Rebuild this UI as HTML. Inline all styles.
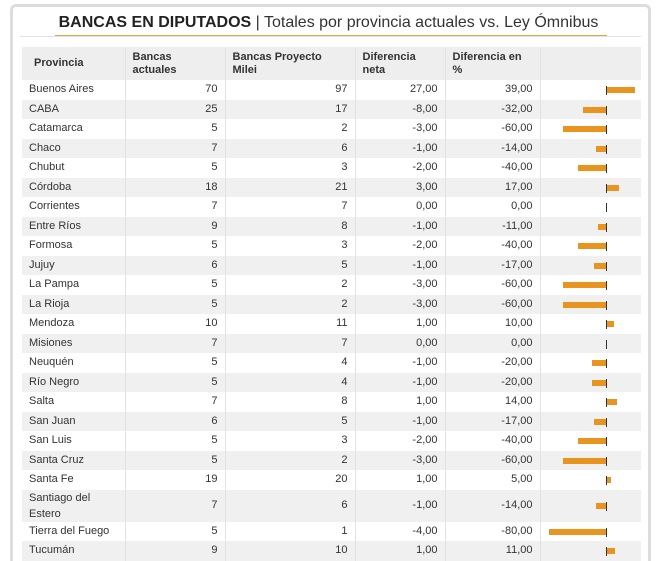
<!DOCTYPE html>
<html style="overflow:hidden;height:561px"><head><meta charset="utf-8"><style>
body{margin:0;width:657px;height:561px;background:#fff;font-family:"Liberation Sans",Arial,sans-serif;overflow:hidden;position:relative}
.card{position:absolute;left:10px;top:4px;width:641px;height:566px;border:3px solid #ddd;border-bottom:none;border-radius:6px 6px 0 0;box-sizing:border-box}
.title{position:absolute;left:0;width:657px;top:14px;text-align:center;font-size:16px;color:#333;white-space:nowrap}
.title b{font-weight:bold;color:#222}
.ul{position:absolute;left:55px;width:552px;top:35px;height:1px;background:#e0a93a}
.gl{position:absolute;left:20px;width:621px;top:36px;height:1px;background:#e2e2e2}
table{position:absolute;left:22px;top:47px;border-collapse:collapse;font-size:11px;color:#333;table-layout:fixed;width:619px}
td{padding:0 7px;height:19.5px;border-left:1px solid #e2e2e2;line-height:13px}
td:first-child{border-left:none}
thead td{background:#eee;font-weight:bold;height:33px;vertical-align:middle}
thead td:first-child{padding-left:12px}
tbody tr:nth-child(even) td{background:#f0f0f0}
td.n{text-align:right}
.b{position:relative;height:19px;padding:0}
.z{position:absolute;left:65px;top:6px;width:1px;height:9px;background:#333}
.bar{position:absolute;top:7px;height:6px;background:#e8941f}
</style></head><body>
<div class="card"></div>
<div class="title"><b>BANCAS EN DIPUTADOS</b> | Totales por provincia actuales vs. Ley Ómnibus</div>
<div class="gl"></div><div class="ul"></div>
<table>
<colgroup><col style="width:103px"><col style="width:100px"><col style="width:130px"><col style="width:90px"><col style="width:95px"><col style="width:101px"></colgroup>
<thead><tr><td>Provincia</td><td>Bancas<br>actuales</td><td>Bancas Proyecto<br>Milei</td><td>Diferencia<br>neta</td><td>Diferencia en<br>%</td><td></td></tr></thead>
<tbody>
<tr><td>Buenos Aires</td><td class="n">70</td><td class="n">97</td><td class="n">27,00</td><td class="n">39,00</td><td class="b"><div class="bar" style="left:66px;width:28px"></div><div class="z"></div></td></tr>
<tr><td>CABA</td><td class="n">25</td><td class="n">17</td><td class="n">-8,00</td><td class="n">-32,00</td><td class="b"><div class="bar" style="left:42px;width:23px"></div><div class="z"></div></td></tr>
<tr><td>Catamarca</td><td class="n">5</td><td class="n">2</td><td class="n">-3,00</td><td class="n">-60,00</td><td class="b"><div class="bar" style="left:22px;width:43px"></div><div class="z"></div></td></tr>
<tr><td>Chaco</td><td class="n">7</td><td class="n">6</td><td class="n">-1,00</td><td class="n">-14,00</td><td class="b"><div class="bar" style="left:55px;width:10px"></div><div class="z"></div></td></tr>
<tr><td>Chubut</td><td class="n">5</td><td class="n">3</td><td class="n">-2,00</td><td class="n">-40,00</td><td class="b"><div class="bar" style="left:37px;width:28px"></div><div class="z"></div></td></tr>
<tr><td>Córdoba</td><td class="n">18</td><td class="n">21</td><td class="n">3,00</td><td class="n">17,00</td><td class="b"><div class="bar" style="left:66px;width:12px"></div><div class="z"></div></td></tr>
<tr><td>Corrientes</td><td class="n">7</td><td class="n">7</td><td class="n">0,00</td><td class="n">0,00</td><td class="b"><div class="z"></div></td></tr>
<tr><td>Entre Ríos</td><td class="n">9</td><td class="n">8</td><td class="n">-1,00</td><td class="n">-11,00</td><td class="b"><div class="bar" style="left:57px;width:8px"></div><div class="z"></div></td></tr>
<tr><td>Formosa</td><td class="n">5</td><td class="n">3</td><td class="n">-2,00</td><td class="n">-40,00</td><td class="b"><div class="bar" style="left:37px;width:28px"></div><div class="z"></div></td></tr>
<tr><td>Jujuy</td><td class="n">6</td><td class="n">5</td><td class="n">-1,00</td><td class="n">-17,00</td><td class="b"><div class="bar" style="left:53px;width:12px"></div><div class="z"></div></td></tr>
<tr><td>La Pampa</td><td class="n">5</td><td class="n">2</td><td class="n">-3,00</td><td class="n">-60,00</td><td class="b"><div class="bar" style="left:22px;width:43px"></div><div class="z"></div></td></tr>
<tr><td>La Rioja</td><td class="n">5</td><td class="n">2</td><td class="n">-3,00</td><td class="n">-60,00</td><td class="b"><div class="bar" style="left:22px;width:43px"></div><div class="z"></div></td></tr>
<tr><td>Mendoza</td><td class="n">10</td><td class="n">11</td><td class="n">1,00</td><td class="n">10,00</td><td class="b"><div class="bar" style="left:66px;width:7px"></div><div class="z"></div></td></tr>
<tr><td>Misiones</td><td class="n">7</td><td class="n">7</td><td class="n">0,00</td><td class="n">0,00</td><td class="b"><div class="z"></div></td></tr>
<tr><td>Neuquén</td><td class="n">5</td><td class="n">4</td><td class="n">-1,00</td><td class="n">-20,00</td><td class="b"><div class="bar" style="left:51px;width:14px"></div><div class="z"></div></td></tr>
<tr><td>Río Negro</td><td class="n">5</td><td class="n">4</td><td class="n">-1,00</td><td class="n">-20,00</td><td class="b"><div class="bar" style="left:51px;width:14px"></div><div class="z"></div></td></tr>
<tr><td>Salta</td><td class="n">7</td><td class="n">8</td><td class="n">1,00</td><td class="n">14,00</td><td class="b"><div class="bar" style="left:66px;width:10px"></div><div class="z"></div></td></tr>
<tr><td>San Juan</td><td class="n">6</td><td class="n">5</td><td class="n">-1,00</td><td class="n">-17,00</td><td class="b"><div class="bar" style="left:53px;width:12px"></div><div class="z"></div></td></tr>
<tr><td>San Luis</td><td class="n">5</td><td class="n">3</td><td class="n">-2,00</td><td class="n">-40,00</td><td class="b"><div class="bar" style="left:37px;width:28px"></div><div class="z"></div></td></tr>
<tr><td>Santa Cruz</td><td class="n">5</td><td class="n">2</td><td class="n">-3,00</td><td class="n">-60,00</td><td class="b"><div class="bar" style="left:22px;width:43px"></div><div class="z"></div></td></tr>
<tr><td>Santa Fe</td><td class="n">19</td><td class="n">20</td><td class="n">1,00</td><td class="n">5,00</td><td class="b"><div class="bar" style="left:66px;width:4px"></div><div class="z"></div></td></tr>
<tr><td style="height:32px;line-height:16px">Santiago del<br>Estero</td><td class="n">7</td><td class="n">6</td><td class="n">-1,00</td><td class="n">-14,00</td><td class="b" style="height:32px"><div class="bar" style="left:55px;width:10px;top:13px"></div><div class="z" style="top:12px"></div></td></tr>
<tr><td>Tierra del Fuego</td><td class="n">5</td><td class="n">1</td><td class="n">-4,00</td><td class="n">-80,00</td><td class="b"><div class="bar" style="left:8px;width:57px"></div><div class="z"></div></td></tr>
<tr><td>Tucumán</td><td class="n">9</td><td class="n">10</td><td class="n">1,00</td><td class="n">11,00</td><td class="b"><div class="bar" style="left:66px;width:8px"></div><div class="z"></div></td></tr>
</tbody></table>
</body></html>
